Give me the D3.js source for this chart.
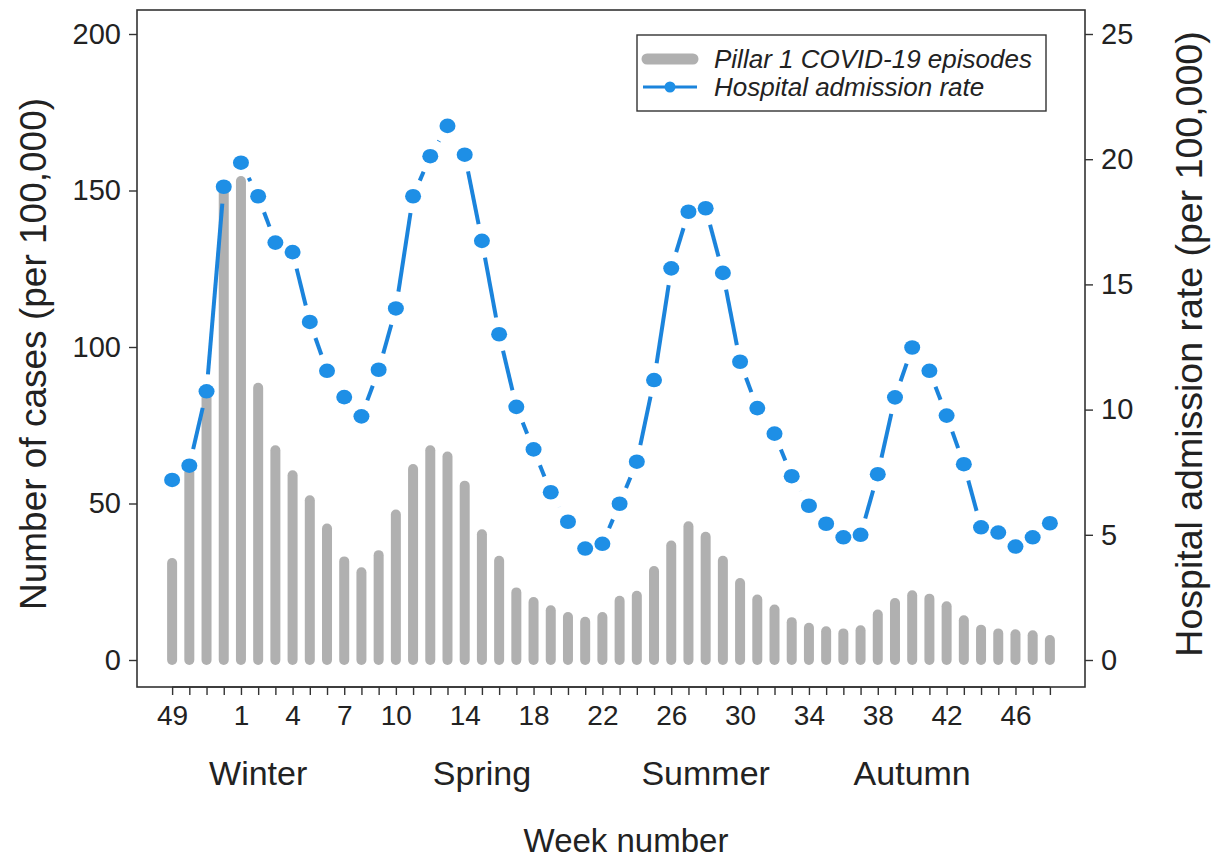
<!DOCTYPE html>
<html>
<head>
<meta charset="utf-8">
<script src="https://cdn.jsdelivr.net/npm/d3@7"></script>
<style>
  html, body { margin: 0; padding: 0; background: #fff; }
  svg { display: block; font-family: "Liberation Sans", Arial, Helvetica, sans-serif; }
</style>
</head>
<body>
<script>
// ---- Data ----
const weeks = [49, 50, 51, 52, 1, 2, 3, 4, 5, 6, 7, 8, 9, 10, 11, 12, 13, 14, 15, 16, 17, 18, 19, 20, 21, 22, 23, 24, 25, 26, 27, 28, 29, 30, 31, 32, 33, 34, 35, 36, 37, 38, 39, 40, 41, 42, 43, 44, 45, 46, 47, 48];
const cases = [31, 60, 84, 150, 153, 87, 67, 59, 51, 42, 31.5, 28, 33.5, 46.5, 61, 67, 65, 55.7, 40.2, 31.7, 21.6, 18.5, 15.9, 13.7, 12.2, 13.7, 18.9, 20.5, 28.4, 36.6, 42.7, 39.4, 31.7, 24.6, 19.3, 16.1, 12.1, 10.3, 9.2, 8.5, 9.5, 14.5, 18.2, 20.7, 19.6, 17.2, 12.7, 9.7, 8.5, 8.2, 7.9, 6.4];
const admissions = [7.19, 7.76, 10.73, 18.9, 19.86, 18.52, 16.67, 16.29, 13.5, 11.55, 10.5, 9.73, 11.59, 14.04, 18.52, 20.12, 21.33, 20.18, 16.74, 13.01, 10.11, 8.41, 6.70, 5.52, 4.45, 4.64, 6.24, 7.92, 11.18, 15.64, 17.9, 18.04, 15.46, 11.91, 10.06, 9.04, 7.34, 6.16, 5.44, 4.90, 5.0, 7.42, 10.49, 12.48, 11.55, 9.76, 7.82, 5.30, 5.09, 4.53, 4.90, 5.46];
const weekLabels = [49, 1, 4, 7, 10, 14, 18, 22, 26, 30, 34, 38, 42, 46];
const leftTicks = [0, 50, 100, 150, 200];
const rightTicks = [0, 5, 10, 15, 20, 25];
const seasons = ["Winter", "Spring", "Summer", "Autumn"];
const seasonWeeks = [2, 15, 28, 40];
const legendLabels = ["Pillar 1 COVID-19 episodes", "Hospital admission rate"];

// ---- Layout ----
const W = 1219, H = 859;
const plot = { left: 137, right: 1085, top: 10, bottom: 687 };
const barColor = "#b0b0b0";
const lineColor = "#1b84dc";
const pointColor = "#1e8fe6";
const ink = "#222";
const font = '"Liberation Sans", Arial, Helvetica, sans-serif';

const svg = d3.select("body").append("svg").attr("width", W).attr("height", H);

const x = d3.scalePoint().domain(weeks).range([plot.left, plot.right]).padding(2.04);
const yL = d3.scaleLinear().domain([0, 200]).range([660, 34]);
const yR = d3.scaleLinear().domain([0, 25]).range([660, 34]);

// ---- Bars ----
svg.append("g").selectAll("line")
  .data(cases)
  .join("line")
  .attr("x1", (d, i) => x(weeks[i]))
  .attr("x2", (d, i) => x(weeks[i]))
  .attr("y1", yL(0))
  .attr("y2", d => yL(d))
  .attr("stroke", barColor)
  .attr("stroke-width", 10)
  .attr("stroke-linecap", "round");

// ---- Line with gaps around points (type = "b") ----
const pts = admissions.map((v, i) => [x(weeks[i]), yR(v)]);
const gap = 17;
const segs = [];
for (let i = 0; i < pts.length - 1; i++) {
  const [x0, y0] = pts[i], [x1, y1] = pts[i + 1];
  const len = Math.hypot(x1 - x0, y1 - y0);
  if (len > 2 * gap) {
    const ux = (x1 - x0) / len, uy = (y1 - y0) / len;
    segs.push([x0 + ux * gap, y0 + uy * gap, x1 - ux * gap, y1 - uy * gap]);
  }
}
svg.append("g").selectAll("line")
  .data(segs)
  .join("line")
  .attr("x1", d => d[0]).attr("y1", d => d[1])
  .attr("x2", d => d[2]).attr("y2", d => d[3])
  .attr("stroke", lineColor)
  .attr("stroke-width", 4);

svg.append("g").selectAll("ellipse")
  .data(admissions)
  .join("ellipse")
  .attr("cx", (d, i) => x(weeks[i]))
  .attr("cy", d => yR(d))
  .attr("rx", 8)
  .attr("ry", 7.3)
  .attr("fill", pointColor);

// ---- Frame ----
svg.append("rect")
  .attr("x", plot.left).attr("y", plot.top)
  .attr("width", plot.right - plot.left).attr("height", plot.bottom - plot.top)
  .attr("fill", "none").attr("stroke", "#333").attr("stroke-width", 1.6);

// ---- Axes ----
function styleAxis(g) {
  g.select(".domain").remove();
  g.selectAll(".tick line").attr("stroke", "#333").attr("stroke-width", 1.4);
  g.selectAll(".tick text").attr("fill", ink).style("font-family", font);
}

svg.append("g")
  .attr("transform", `translate(${plot.left},0)`)
  .call(d3.axisLeft(yL).tickValues(leftTicks).tickSize(8).tickPadding(8))
  .call(styleAxis)
  .call(g => g.selectAll(".tick text").style("font-size", "29px"));

svg.append("g")
  .attr("transform", `translate(${plot.right},0)`)
  .call(d3.axisRight(yR).tickValues(rightTicks).tickSize(8).tickPadding(8))
  .call(styleAxis)
  .call(g => g.selectAll(".tick text").style("font-size", "29px"));

svg.append("g")
  .attr("transform", `translate(0,${plot.bottom})`)
  .call(d3.axisBottom(x).tickValues(weeks).tickSize(8).tickPadding(10)
    .tickFormat(d => weekLabels.includes(d) ? String(d) : ""))
  .call(styleAxis)
  .call(g => g.selectAll(".tick text").style("font-size", "28px"));

svg.append("line")
  .attr("x1", x(weeks[0])).attr("x2", x(weeks[weeks.length - 1]))
  .attr("y1", plot.bottom).attr("y2", plot.bottom)
  .attr("stroke", "#333").attr("stroke-width", 1.6);

// ---- Season labels ----
svg.append("g").selectAll("text")
  .data(seasons)
  .join("text")
  .attr("x", (d, i) => x(seasonWeeks[i]))
  .attr("y", 785)
  .attr("text-anchor", "middle")
  .attr("fill", ink)
  .style("font-size", "34px")
  .text(d => d);

// ---- Axis titles ----
svg.append("text")
  .attr("x", 626)
  .attr("y", 852)
  .attr("text-anchor", "middle")
  .attr("fill", ink)
  .style("font-size", "33px")
  .text("Week number");

svg.append("text")
  .attr("transform", `translate(46,354) rotate(-90)`)
  .attr("text-anchor", "middle")
  .attr("fill", ink)
  .style("font-size", "37px")
  .text("Number of cases (per 100,000)");

svg.append("text")
  .attr("transform", `translate(1202,344) rotate(-90)`)
  .attr("text-anchor", "middle")
  .attr("fill", ink)
  .style("font-size", "37.5px")
  .text("Hospital admission rate (per 100,000)");

// ---- Legend ----
const lg = svg.append("g");
lg.append("rect")
  .attr("x", 637).attr("y", 35).attr("width", 409).attr("height", 76)
  .attr("fill", "#fff").attr("stroke", "#333").attr("stroke-width", 1.4);
lg.append("line")
  .attr("x1", 647).attr("x2", 693).attr("y1", 59).attr("y2", 59)
  .attr("stroke", barColor).attr("stroke-width", 11).attr("stroke-linecap", "round");
lg.append("line")
  .attr("x1", 643).attr("x2", 697).attr("y1", 87).attr("y2", 87)
  .attr("stroke", lineColor).attr("stroke-width", 3);
lg.append("circle")
  .attr("cx", 670).attr("cy", 87).attr("r", 5.5).attr("fill", pointColor);
lg.selectAll("text.leg")
  .data(legendLabels)
  .join("text")
  .attr("class", "leg")
  .attr("x", 714)
  .attr("y", (d, i) => 68 + i * 28)
  .attr("fill", ink)
  .style("font-size", "26px")
  .style("font-style", "italic")
  .text(d => d);
</script>
</body>
</html>
